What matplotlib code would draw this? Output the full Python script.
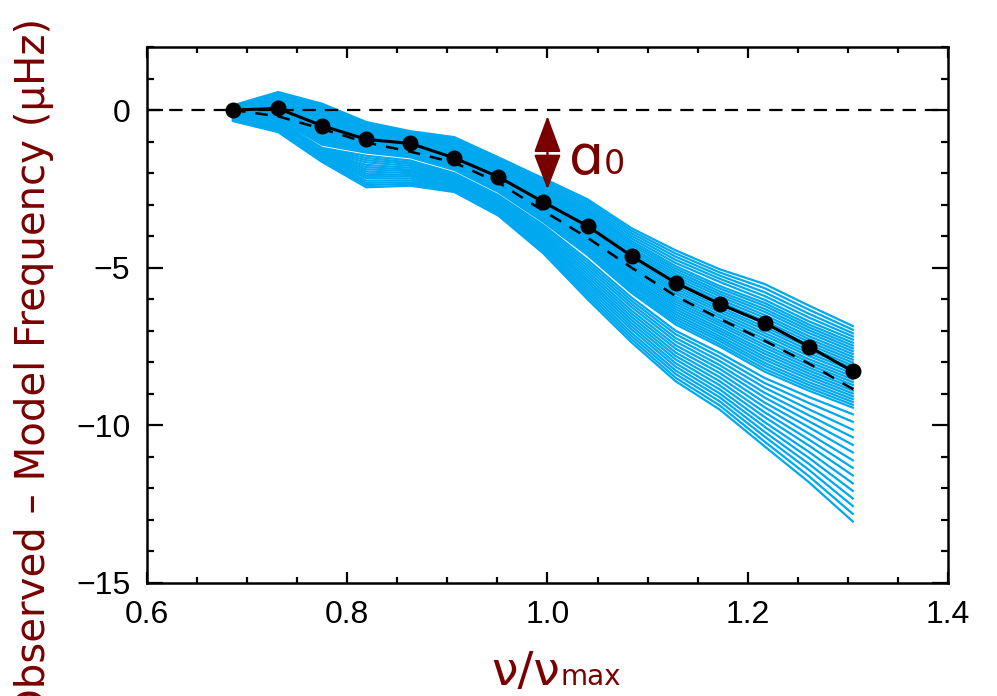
import matplotlib.pyplot as plt
import numpy as np

# frequency ratio nu/nu_max of the observed modes
nu_ratio = [0.686, 0.731, 0.775, 0.819, 0.863, 0.907, 0.951, 0.996,
            1.040, 1.084, 1.128, 1.172, 1.217, 1.261, 1.305]
# observed - model frequency for the best model (black points)
obs_diff = [0.0, 0.05, -0.5, -0.93, -1.06, -1.52, -2.12, -2.92,
            -3.68, -4.63, -5.48, -6.15, -6.75, -7.5, -8.29]
# fitted surface correction (dashed curve)
fit_ratio = [0.686, 0.731, 0.775, 0.819, 0.863, 0.907, 0.951, 0.996,
             1.040, 1.084, 1.128, 1.172, 1.217, 1.261, 1.305, 1.312]
fit_diff = [0.0, -0.2, -0.6, -1.03, -1.32, -1.67, -2.3, -3.2,
            -4.05, -5.0, -5.9, -6.62, -7.32, -8.04, -8.85, -9.0]

# offsets of the other models at each nu/nu_max point (blue lines), top to bottom
m_0686 = [0.15, 0.12, 0.10, 0.08, 0.06,
          0.05, 0.04, 0.03, 0.02, 0.02, 0.01, 0.0, -0.01, -0.02, -0.03, -0.04, -0.05,
          -0.05, -0.06, -0.07, -0.08, -0.09, -0.10, -0.11, -0.12, -0.12, -0.13, -0.14, -0.15,
          -0.18, -0.19, -0.20, -0.22, -0.23, -0.24, -0.25, -0.26, -0.28, -0.29, -0.30, -0.31,
          -0.32, -0.34, -0.35]
m_0731 = [0.57, 0.52, 0.47, 0.43, 0.39,
          0.35, 0.32, 0.29, 0.27, 0.24, 0.21, 0.18, 0.15, 0.12, 0.10, 0.07, 0.04,
          0.01, -0.02, -0.05, -0.07, -0.10, -0.13, -0.16, -0.19, -0.22, -0.24, -0.27, -0.30,
          -0.35, -0.38, -0.40, -0.43, -0.45, -0.48, -0.50, -0.53, -0.55, -0.58, -0.60, -0.63,
          -0.65, -0.68, -0.70]
m_0775 = [0.20, 0.15, 0.10, 0.05, 0.0,
          -0.05, -0.10, -0.14, -0.19, -0.23, -0.28, -0.32, -0.37, -0.42, -0.46, -0.51, -0.55,
          -0.60, -0.64, -0.69, -0.73, -0.78, -0.83, -0.87, -0.92, -0.96, -1.01, -1.05, -1.10,
          -1.20, -1.23, -1.26, -1.30, -1.33, -1.36, -1.39, -1.43, -1.46, -1.49, -1.52, -1.55,
          -1.59, -1.62, -1.65]
m_0819 = [-0.38, -0.42, -0.46, -0.50, -0.54,
          -0.58, -0.61, -0.65, -0.68, -0.71, -0.75, -0.78, -0.81, -0.85, -0.88, -0.91, -0.95,
          -0.98, -1.01, -1.05, -1.08, -1.12, -1.15, -1.18, -1.22, -1.25, -1.28, -1.32, -1.35,
          -1.45, -1.52, -1.59, -1.66, -1.74, -1.81, -1.88, -1.95, -2.02, -2.09, -2.16, -2.24,
          -2.31, -2.38, -2.45]
m_0863 = [-0.67, -0.71, -0.75, -0.79, -0.83,
          -0.87, -0.90, -0.92, -0.95, -0.98, -1.01, -1.03, -1.06, -1.09, -1.12, -1.14, -1.17,
          -1.20, -1.23, -1.25, -1.28, -1.31, -1.34, -1.36, -1.39, -1.42, -1.45, -1.47, -1.50,
          -1.60, -1.66, -1.71, -1.77, -1.83, -1.89, -1.94, -2.00, -2.06, -2.11, -2.17, -2.23,
          -2.29, -2.34, -2.40]
m_0907 = [-0.86, -0.90, -0.94, -0.98, -1.02,
          -1.06, -1.10, -1.13, -1.17, -1.21, -1.24, -1.28, -1.32, -1.35, -1.39, -1.43, -1.46,
          -1.50, -1.53, -1.57, -1.61, -1.64, -1.68, -1.72, -1.75, -1.79, -1.83, -1.86, -1.90,
          -2.00, -2.04, -2.09, -2.13, -2.17, -2.21, -2.26, -2.30, -2.34, -2.39, -2.43, -2.47,
          -2.51, -2.56, -2.60]
m_0951 = [-1.50, -1.55, -1.60, -1.65, -1.70,
          -1.75, -1.79, -1.82, -1.86, -1.90, -1.93, -1.97, -2.01, -2.05, -2.08, -2.12, -2.16,
          -2.19, -2.23, -2.27, -2.30, -2.34, -2.38, -2.42, -2.45, -2.49, -2.53, -2.56, -2.60,
          -2.70, -2.75, -2.79, -2.84, -2.89, -2.93, -2.98, -3.02, -3.07, -3.12, -3.16, -3.21,
          -3.26, -3.30, -3.35]
m_0996 = [-2.17, -2.23, -2.29, -2.35, -2.41,
          -2.47, -2.52, -2.56, -2.61, -2.66, -2.70, -2.75, -2.80, -2.85, -2.89, -2.94, -2.99,
          -3.03, -3.08, -3.13, -3.17, -3.22, -3.27, -3.32, -3.36, -3.41, -3.46, -3.50, -3.55,
          -3.65, -3.71, -3.78, -3.84, -3.91, -3.97, -4.04, -4.10, -4.16, -4.23, -4.29, -4.36,
          -4.42, -4.49, -4.55]
m_1040 = [-2.83, -2.90, -2.97, -3.04, -3.11,
          -3.18, -3.24, -3.30, -3.37, -3.43, -3.49, -3.55, -3.61, -3.67, -3.74, -3.80, -3.86,
          -3.92, -3.98, -4.04, -4.11, -4.17, -4.23, -4.29, -4.35, -4.41, -4.48, -4.54, -4.60,
          -4.75, -4.84, -4.93, -5.02, -5.11, -5.20, -5.29, -5.38, -5.46, -5.55, -5.64, -5.73,
          -5.82, -5.91, -6.00]
m_1084 = [-3.75, -3.83, -3.91, -3.99, -4.07,
          -4.15, -4.22, -4.29, -4.37, -4.44, -4.51, -4.58, -4.65, -4.72, -4.80, -4.87, -4.94,
          -5.01, -5.08, -5.15, -5.23, -5.30, -5.37, -5.44, -5.51, -5.58, -5.66, -5.73, -5.80,
          -5.95, -6.05, -6.15, -6.25, -6.36, -6.46, -6.56, -6.66, -6.76, -6.86, -6.96, -7.07,
          -7.17, -7.27, -7.37]
m_1128 = [-4.45, -4.55, -4.65, -4.75, -4.85,
          -4.95, -5.03, -5.11, -5.19, -5.27, -5.35, -5.43, -5.51, -5.59, -5.67, -5.75, -5.83,
          -5.92, -6.00, -6.08, -6.16, -6.24, -6.32, -6.40, -6.48, -6.56, -6.64, -6.72, -6.80,
          -7.00, -7.11, -7.23, -7.34, -7.46, -7.57, -7.69, -7.80, -7.91, -8.03, -8.14, -8.26,
          -8.37, -8.49, -8.60]
m_1172 = [-5.05, -5.15, -5.25, -5.35, -5.45,
          -5.58, -5.66, -5.75, -5.83, -5.91, -6.00, -6.08, -6.16, -6.25, -6.33, -6.41, -6.50,
          -6.58, -6.67, -6.75, -6.83, -6.92, -7.00, -7.08, -7.17, -7.25, -7.33, -7.42, -7.50,
          -7.70, -7.83, -7.96, -8.09, -8.21, -8.34, -8.47, -8.60, -8.73, -8.86, -8.99, -9.11,
          -9.24, -9.37, -9.50]
m_1217 = [-5.52, -5.65, -5.78, -5.90, -6.02,
          -6.12, -6.21, -6.31, -6.40, -6.50, -6.59, -6.69, -6.78, -6.88, -6.97, -7.07, -7.16,
          -7.26, -7.35, -7.45, -7.54, -7.64, -7.73, -7.83, -7.92, -8.02, -8.11, -8.21, -8.30,
          -8.50, -8.66, -8.81, -8.97, -9.12, -9.28, -9.43, -9.59, -9.74, -9.90, -10.05, -10.21,
          -10.36, -10.52, -10.67]
m_1261 = [-6.20, -6.33, -6.46, -6.58, -6.70,
          -6.80, -6.89, -6.98, -7.07, -7.17, -7.26, -7.35, -7.44, -7.53, -7.62, -7.71, -7.80,
          -7.90, -7.99, -8.08, -8.17, -8.26, -8.35, -8.44, -8.53, -8.63, -8.72, -8.81, -8.90,
          -9.10, -9.29, -9.49, -9.68, -9.87, -10.06, -10.26, -10.45, -10.64, -10.84, -11.03, -11.22,
          -11.41, -11.61, -11.80]
m_1305 = [-6.85, -6.97, -7.08, -7.18, -7.28,
          -7.38, -7.47, -7.56, -7.65, -7.74, -7.83, -7.92, -8.01, -8.10, -8.18, -8.27, -8.36,
          -8.45, -8.54, -8.63, -8.72, -8.81, -8.90, -8.99, -9.08, -9.17, -9.26, -9.35, -9.44,
          -9.65, -9.89, -10.14, -10.38, -10.62, -10.86, -11.11, -11.35, -11.59, -11.84, -12.08, -12.32,
          -12.56, -12.81, -13.05]

ytick_vals = [0, -5, -10, -15]
ytick_labels = ['0', '\u22125', '\u221210', '\u221215']
xtick_vals = [0.6, 0.8, 1.0, 1.2, 1.4]
xtick_labels = ['0.6', '0.8', '1.0', '1.2', '1.4']

# a0 arrow at nu_max
a0_x = 1.0
a0_top = -0.19
a0_mid = -1.38
a0_bot = -2.51

blue = '#00a8f0'
dred = '#7a0000'

fig = plt.figure(figsize=(9.97, 6.96), dpi=100)
ax = fig.add_axes([0.1474, 0.1624, 0.8034, 0.7701])

model_cols = [m_0686, m_0731, m_0775, m_0819, m_0863, m_0907, m_0951, m_0996,
              m_1040, m_1084, m_1128, m_1172, m_1217, m_1261, m_1305]
model_lines = np.array(model_cols).T
for row in model_lines:
    ax.plot(nu_ratio, row, color=blue, lw=1.6, zorder=1)

ax.axhline(0, color='black', lw=1.6, dashes=(6, 4), zorder=3)
ax.plot(fit_ratio, fit_diff, color='black', lw=1.8, dashes=(5, 4), zorder=3)
ax.plot(nu_ratio, obs_diff, color='black', lw=2.2, marker='o', ms=10.5, zorder=4)

# double arrow for a0
ax.annotate('', xy=(a0_x, a0_top), xytext=(a0_x, a0_mid),
            arrowprops=dict(arrowstyle='-|>,head_length=23,head_width=8.5',
                            mutation_scale=1, color=dred, lw=1.5,
                            shrinkA=0, shrinkB=0), zorder=5)
ax.annotate('', xy=(a0_x, a0_bot), xytext=(a0_x, a0_mid),
            arrowprops=dict(arrowstyle='-|>,head_length=22,head_width=8.5',
                            mutation_scale=1, color=dred, lw=1.5,
                            shrinkA=0, shrinkB=0), zorder=5)
ax.text(1.022, -2.03, '\u0251', color=dred, fontsize=40, va='baseline',
        ha='left', family='DejaVu Sans')
ax.text(1.056, -2.03, '0', color=dred, fontsize=24, va='baseline',
        ha='left', family='DejaVu Sans')

ax.set_xlim(0.6, 1.4)
ax.set_ylim(-15, 2)
ax.set_xticks(xtick_vals)
ax.set_xticklabels(xtick_labels)
ax.set_yticks(ytick_vals)
ax.set_yticklabels(ytick_labels)
ax.set_xticks(np.arange(0.6, 1.401, 0.05), minor=True)
ax.set_yticks(np.arange(-15, 2.01, 1), minor=True)

for lab in ax.get_xticklabels() + ax.get_yticklabels():
    lab.set_family('Liberation Sans')
    lab.set_fontsize(23)

ax.tick_params(which='both', direction='in', top=True, right=True, width=1.6)
ax.tick_params(axis='x', which='major', length=8, pad=12)
ax.tick_params(axis='x', which='minor', length=4.5)
ax.tick_params(axis='y', which='major', length=11.5, pad=12)
ax.tick_params(axis='y', which='minor', length=5)
for sp in ax.spines.values():
    sp.set_linewidth(1.8)

fig.text(0.034, 0.47, 'Observed \u2013 Model Frequency (\u03bcHz)', color=dred,
         fontsize=29, rotation=90, ha='center', va='center')
fig.text(0.562, 0.016, '\u03bd/\u03bd', color=dred, fontsize=34, ha='right',
         va='baseline')
fig.text(0.562, 0.016, 'max', color=dred, fontsize=20, ha='left', va='baseline')

fig.savefig('out.png', dpi=100)
